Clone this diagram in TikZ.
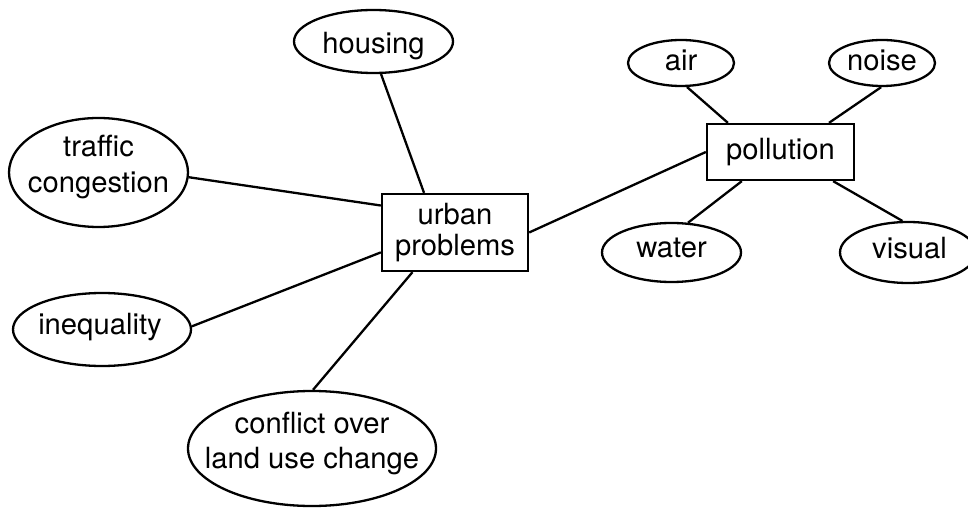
\documentclass[tikz,border=0pt]{standalone}
\usepackage{fontspec}
\setmainfont{TeX Gyre Heros}
\usetikzlibrary{shapes.geometric}
\begin{document}
\begin{tikzpicture}[x=1pt,y=-1pt,
  txt/.style={font=\fontsize{29.2}{35}\selectfont, inner sep=0pt, anchor=base},
  oval/.style={ellipse, draw=black, line width=2.3pt, inner sep=0pt},
  boxnode/.style={rectangle, draw=black, line width=2.3pt, inner sep=0pt, font=\fontsize{29.2}{35}\selectfont, align=center},
  link/.style={line width=2.3pt, draw=black}]
\useasboundingbox (0,0) rectangle (968,510);
% central nodes
\node[boxnode, minimum width=146, minimum height=77, font=\fontsize{29.2}{31}\selectfont] (urban) at (455,232.5) {urban\\problems};
\node[boxnode, minimum width=147, minimum height=56] (poll) at (780.5,152) {pollution};
% ellipses around urban problems
\node[oval, minimum width=159, minimum height=63] (housing) at (373.5,41.5) {};
\node[txt] (housingT) at (373.5,53.3) {housing};
\node[oval, minimum width=179, minimum height=109] (traffic) at (98.5,172.5) {};
\node[txt] (trafficT1) at (98.5,156.7) {traffic};
\node[txt] (trafficT2) at (98.5,192.7) {congestion};
\node[oval, minimum width=178, minimum height=73] (ineq) at (102,329.5) {};
\node[txt] (ineqT) at (100,334) {inequality};
\node[oval, minimum width=248, minimum height=115] (conflict) at (312,448.5) {};
\node[txt] (conflictT1) at (312,433) {conflict over};
\node[txt] (conflictT2) at (312,468) {land use change};
% ellipses around pollution
\node[oval, minimum width=106, minimum height=46] (air) at (681,63) {};
\node[txt] (airT) at (681,71) {air};
\node[oval, minimum width=106, minimum height=46] (noise) at (882,63) {};
\node[txt] (noiseT) at (882,71) {noise};
\node[oval, minimum width=139, minimum height=59] (water) at (671.5,252.5) {};
\node[txt] (waterT) at (671.5,258) {water};
\node[oval, minimum width=136, minimum height=61] (visual) at (908,252.5) {};
\node[txt] (visualT) at (909.5,259) {visual};
% connectors
\draw[link] (housing.-77) -- (urban.128.6);
\draw[link] (traffic.-3.5) -- (urban.160.2);
\draw[link] (ineq.2.5) -- (urban.195.6);
\draw[link] (conflict.89.5) -- (urban.223.6);
\draw[link] (urban.0) -- (poll.180);
\draw[link] (air.-76) -- (poll.151.5);
\draw[link] (noise.-92) -- (poll.31.9);
\draw[link] (water.61.6) -- (poll.217.7);
\draw[link] (visual.100.8) -- (poll.331.1);
\end{tikzpicture}
\end{document}
